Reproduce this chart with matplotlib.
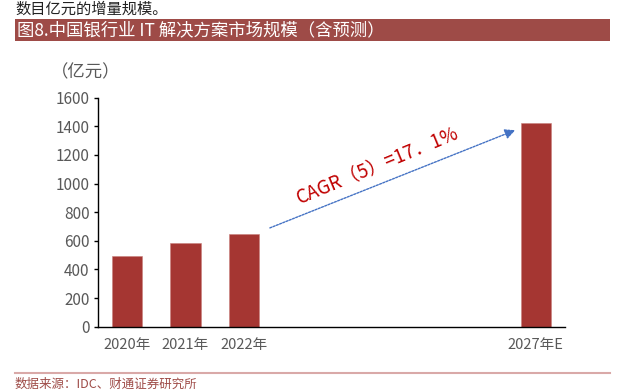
import matplotlib
matplotlib.use("Agg")
import matplotlib.pyplot as plt
from matplotlib.patches import Rectangle
from matplotlib.lines import Line2D

plt.rcParams['font.family'] = ['Noto Sans CJK SC', 'DejaVu Sans']

categories = ["2020年", "2021年", "2022年", "", "", "", "", "2027年E"]
values = [495, 585, 648, None, None, None, None, 1425]
yticks = [0, 200, 400, 600, 800, 1000, 1200, 1400, 1600]
title = "图8.中国银行业 IT 解决方案市场规模（含预测）"
unit = "（亿元）"
source = "数据来源：IDC、财通证券研究所"
top_text = "数目亿元的增量规模。"
cagr = "CAGR（5）=17．1%"

W, H = 623, 392
fig = plt.figure(figsize=(W / 100, H / 100), dpi=100)

# banner
fig.patches.append(Rectangle((15 / W, 1 - 41 / H), (610 - 15) / W, 22 / H,
                             transform=fig.transFigure, facecolor="#9E4B47",
                             edgecolor="none", zorder=0))
fig.text(17 / W, 1 - 30 / H, title, color="white", fontsize=12.5,
         va="center", ha="left")
fig.text(15 / W, 1 - 1 / H, top_text, color="#222222", fontsize=11,
         va="top", ha="left")

# bottom rule and source
fig.lines.append(Line2D([15 / W, 610 / W], [1 - 373 / H, 1 - 373 / H],
                        transform=fig.transFigure, color="#D9A9A8", lw=1.5))
fig.text(15 / W, 1 - 391 / H, source, color="#9E4B47", fontsize=9,
         va="bottom", ha="left")

ax = fig.add_axes([98 / W, 1 - 326.7 / H, (565 - 98) / W, (326.7 - 97.7) / H])
xs = list(range(len(categories)))
bx = [x for x, v in zip(xs, values) if v is not None]
bv = [v for v in values if v is not None]
ax.bar(bx, bv, width=0.52, color="#A53632", edgecolor="#C9807C", linewidth=0.4,
       zorder=2)
ax.set_xlim(-0.5, len(categories) - 0.5)
ax.set_ylim(0, 1600)
ax.set_yticks(yticks)
ax.set_xticks(bx)
ax.set_xticklabels([c for c, v in zip(categories, values) if v is not None])
for s in ["top", "right"]:
    ax.spines[s].set_visible(False)
for s in ["left", "bottom"]:
    ax.spines[s].set_color("black")
    ax.spines[s].set_linewidth(1.0)
ax.tick_params(axis="y", length=3, width=1, colors="black", labelcolor="#595959",
               labelsize=11, pad=3)
ax.tick_params(axis="x", length=0, labelcolor="#595959", labelsize=10.5, pad=8)

fig.text(86 / W, 1 - 72 / H, unit, color="#595959", fontsize=12.5,
         va="center", ha="center")

# CAGR arrow
x0, y0 = bx[2] + 0.4, bv[2] + 35
x1, y1 = bx[3] - 0.31, bv[3] - 45
ax.annotate("", xy=(x1, y1), xytext=(x0, y0),
            arrowprops=dict(arrowstyle="-|>,head_length=0.6,head_width=0.3",
                            color="#4472C4", lw=1.0, linestyle=(0, (1.5, 1))),
            zorder=3)
ax.text((x0 + x1) / 2 - 0.26, (y0 + y1) / 2 + 98, cagr, color="#C00000",
        fontsize=13.5, rotation=22.5, ha="center", va="center",
        rotation_mode="anchor")

fig.savefig("out.png", dpi=100)
